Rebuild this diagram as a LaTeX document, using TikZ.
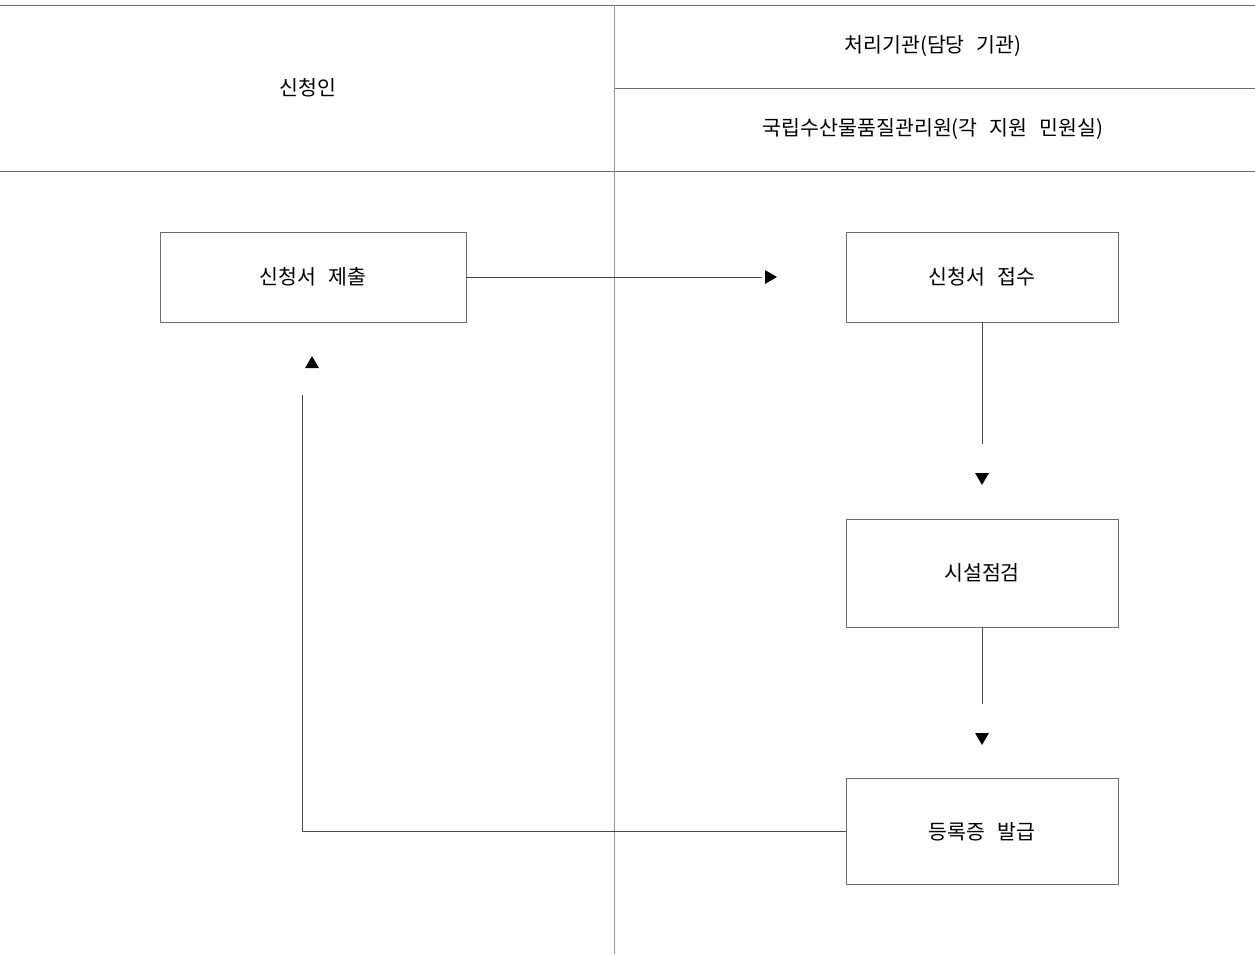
\documentclass[tikz,border=0pt]{standalone}
\usepackage{fontspec}
\setmainfont[WordSpace=2.6]{Noto Sans CJK KR}
\usepackage{tikz}
\usetikzlibrary{shapes.geometric}

\begin{document}
\begin{tikzpicture}[x=0.75pt,y=0.75pt,yscale=-1,xscale=1,
    rule/.style={color={rgb, 255:red, 110; green, 110; blue, 110 },line width=0.75},
    stepbox/.style={draw={rgb, 255:red, 110; green, 110; blue, 110 },line width=0.6,inner sep=0pt,font=\fontsize{15.4}{18}\selectfont},
    label/.style={inner sep=0.75pt,font=\fontsize{15.4}{18}\selectfont},
    link/.style={color={rgb, 255:red, 70; green, 70; blue, 70 },line width=0.6},
    tip/.style={regular polygon,regular polygon sides=3,fill=black,inner sep=0pt,minimum size=12pt}]
        \useasboundingbox (0,0) rectangle (1255,954);

        %Straight Lines (frame)
        \draw [rule]    (0,5) -- (1255,5) ;
        \draw [rule]    (0,171) -- (1255,171) ;
        \draw [rule]    (614,88) -- (1255,88) ;
        \draw [color={rgb, 255:red, 150; green, 150; blue, 150 },line width=0.75]    (614,5) -- (614,954) ;

        % Text Node
        \node [label] (applicant) at (308,88) {신청인};
        % Text Node
        \node [label] (agency) at (933,46) {처리기관(담당 기관)};
        % Text Node
        \node [label] (office) at (933,129) {국립수산물품질관리원(각 지원 민원실)};

        %Shape: Rectangle
        \node [stepbox,minimum width=229.5pt,minimum height=67.5pt] (submit) at (313,277) {신청서 제출};
        %Shape: Rectangle
        \node [stepbox,minimum width=204pt,minimum height=67.5pt] (receive) at (982,277) {신청서 접수};
        %Shape: Rectangle
        \node [stepbox,minimum width=204pt,minimum height=81pt] (inspect) at (982,573) {시설점검};
        %Shape: Rectangle
        \node [stepbox,minimum width=204pt,minimum height=79pt] (issue) at (982,831.5) {등록증 발급};

        %Shape: Triangles
        \node [tip,shape border rotate=-90] (tipa) at (769,277) {};
        \node [tip,shape border rotate=180] (tipb) at (982,477) {};
        \node [tip,shape border rotate=180] (tipc) at (982,737) {};
        \node [tip] (tipd) at (312,364) {};

        \coordinate (enda) at (762,277);
        \coordinate (endb) at (982,444);
        \coordinate (endc) at (982,704);
        \coordinate (endd) at (302,395);

        %Straight Lines
        \draw [link]    (submit.east) -- (enda) ;
        %Straight Lines
        \draw [link]    (receive.south) -- (endb) ;
        %Straight Lines
        \draw [link]    (inspect.south) -- (endc) ;
        %Straight Lines
        \draw [link]    (issue.west) -| (endd) ;

    \end{tikzpicture}
\end{document}
